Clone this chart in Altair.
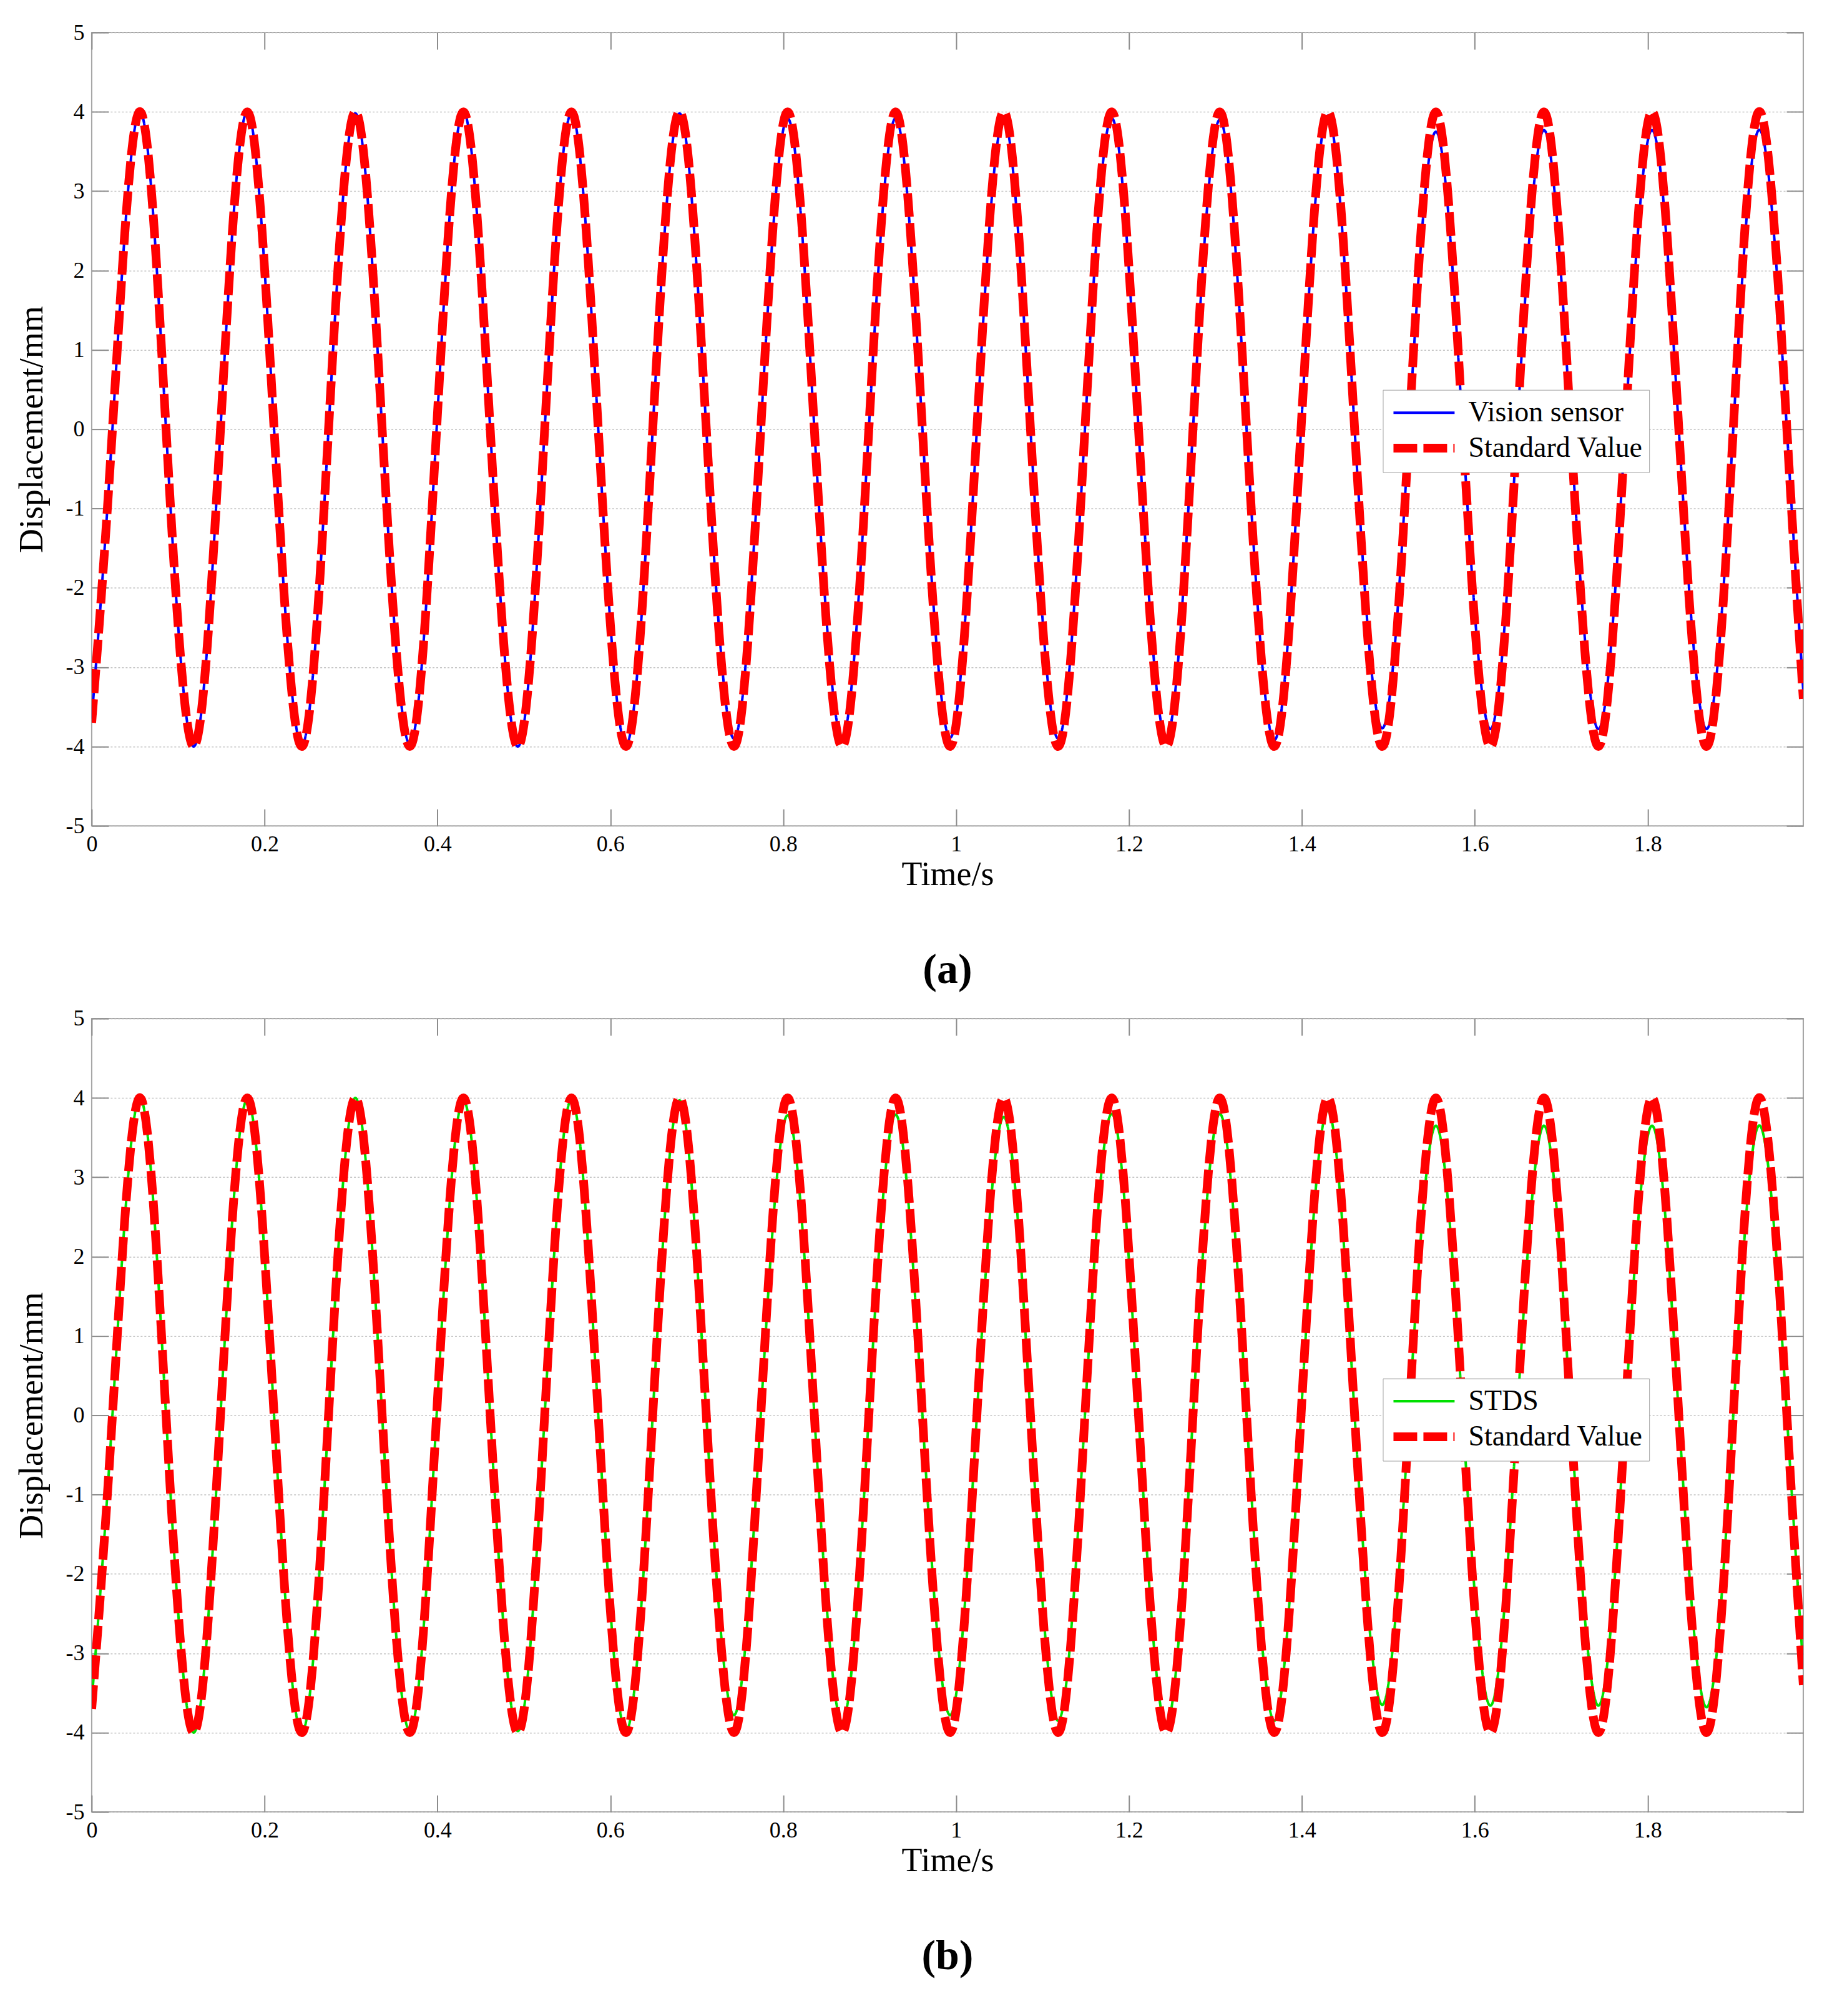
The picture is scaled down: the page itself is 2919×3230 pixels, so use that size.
import altair as alt
import pandas as pd

SERIF = "Liberation Serif"

# sample times (s): start, then quarter-period points (peak, zero, trough, zero) per cycle, then end
time_s = [
    0.000, 0.024,
    0.055, 0.086, 0.118, 0.149,
    0.180, 0.211, 0.243, 0.274,
    0.305, 0.336, 0.368, 0.399,
    0.430, 0.461, 0.493, 0.524,
    0.555, 0.586, 0.618, 0.649,
    0.680, 0.711, 0.743, 0.774,
    0.805, 0.836, 0.868, 0.899,
    0.930, 0.961, 0.993, 1.024,
    1.055, 1.086, 1.118, 1.149,
    1.180, 1.211, 1.243, 1.274,
    1.305, 1.336, 1.368, 1.399,
    1.430, 1.461, 1.493, 1.524,
    1.555, 1.586, 1.618, 1.649,
    1.680, 1.711, 1.743, 1.774,
    1.805, 1.836, 1.868, 1.899,
    1.930, 1.961, 1.980,
]

standard_value = [
    -3.70, 0.0,
    4.00, 0.0, -4.00, 0.0,
    4.00, 0.0, -4.00, 0.0,
    4.00, 0.0, -4.00, 0.0,
    4.00, 0.0, -4.00, 0.0,
    4.00, 0.0, -4.00, 0.0,
    4.00, 0.0, -4.00, 0.0,
    4.00, 0.0, -4.00, 0.0,
    4.00, 0.0, -4.00, 0.0,
    4.00, 0.0, -4.00, 0.0,
    4.00, 0.0, -4.00, 0.0,
    4.00, 0.0, -4.00, 0.0,
    4.00, 0.0, -4.00, 0.0,
    4.00, 0.0, -4.00, 0.0,
    4.00, 0.0, -4.00, 0.0,
    4.00, 0.0, -4.00, 0.0,
    4.00, 0.0, -3.40,
]

vision_sensor = [
    -3.65, 0.0,
    4.00, 0.0, -4.00, 0.0,
    4.00, 0.0, -3.98, 0.0,
    3.98, 0.0, -3.97, 0.0,
    4.00, 0.0, -4.00, 0.0,
    3.98, 0.0, -3.98, 0.0,
    3.98, 0.0, -3.90, 0.0,
    3.92, 0.0, -3.88, 0.0,
    3.92, 0.0, -3.89, 0.0,
    3.90, 0.0, -3.90, 0.0,
    3.92, 0.0, -3.89, 0.0,
    3.90, 0.0, -3.92, 0.0,
    3.95, 0.0, -3.77, 0.0,
    3.75, 0.0, -3.78, 0.0,
    3.77, 0.0, -3.78, 0.0,
    3.77, 0.0, -3.78, 0.0,
    3.77, 0.0, -3.30,
]

stds = [
    -3.60, 0.0,
    4.00, 0.0, -4.00, 0.0,
    3.98, 0.0, -4.00, 0.0,
    4.00, 0.0, -3.98, 0.0,
    3.97, 0.0, -3.98, 0.0,
    3.98, 0.0, -3.98, 0.0,
    3.97, 0.0, -3.78, 0.0,
    3.78, 0.0, -3.86, 0.0,
    3.79, 0.0, -3.78, 0.0,
    3.76, 0.0, -3.85, 0.0,
    3.80, 0.0, -3.90, 0.0,
    3.80, 0.0, -3.85, 0.0,
    3.84, 0.0, -3.65, 0.0,
    3.65, 0.0, -3.66, 0.0,
    3.65, 0.0, -3.66, 0.0,
    3.65, 0.0, -3.68, 0.0,
    3.65, 0.0, -3.20,
]

x_ticks = [0, 0.2, 0.4, 0.6, 0.8, 1, 1.2, 1.4, 1.6, 1.8]
y_ticks = [-5, -4, -3, -2, -1, 0, 1, 2, 3, 4, 5]

W, H = 2744, 1272
TICK = 27


def panel(meas_name, meas_vals, meas_color, caption, legend_y):
    df = pd.DataFrame({
        "t": time_s + time_s,
        "v": meas_vals + standard_value,
        "series": [meas_name] * len(time_s) + ["Standard Value"] * len(time_s),
    })
    dom = [meas_name, "Standard Value"]
    leg = alt.Legend(
        title=None, orient="none", legendX=2070, legendY=legend_y,
        fillColor="white", strokeColor="#a0a0a0", padding=10,
        symbolType="M-1,0H3", symbolSize=2400, labelFontSize=46,
        labelFont=SERIF, labelColor="black", rowPadding=2, labelOffset=64,
        labelLimit=800,
    )
    enc = dict(
        color=alt.Color("series:N", scale=alt.Scale(domain=dom, range=[meas_color, "#ff0000"]), legend=leg),
        strokeDash=alt.StrokeDash("series:N", scale=alt.Scale(domain=dom, range=[[1, 0], [38, 10]]), legend=leg),
        strokeWidth=alt.StrokeWidth("series:N", scale=alt.Scale(domain=dom, range=[4, 14]), legend=leg),
    )
    xs = alt.Scale(domain=[0, 1.98], nice=False, zero=False)
    ys = alt.Scale(domain=[-5, 5], nice=False, zero=False)

    x_bottom = alt.Axis(
        orient="bottom", values=x_ticks, format="~g", title="Time/s",
        offset=-TICK, tickSize=TICK, ticks=True, domain=False, grid=False,
        labelPadding=12, titlePadding=4, labelFlush=False,
    )
    y_left = alt.Axis(
        orient="left", values=y_ticks, title="Displacement/mm",
        offset=-TICK, tickSize=TICK, ticks=True, domain=False, grid=True,
        labelPadding=12, titlePadding=26,
        labelExpr="datum.value < 0 ? '-' + abs(datum.value) : '' + datum.value",
    )
    x_top = alt.Axis(orient="top", values=x_ticks, offset=-TICK, tickSize=TICK,
                     labels=False, domain=False, grid=False, title=None)
    y_right = alt.Axis(orient="right", values=y_ticks, offset=-TICK, tickSize=TICK,
                       labels=False, domain=False, grid=False, title=None)

    base = alt.Chart(df)
    meas = base.transform_filter(alt.datum.series == meas_name).mark_line(
        interpolate="natural", clip=True
    ).encode(
        x=alt.X("t:Q", scale=xs, axis=x_bottom),
        y=alt.Y("v:Q", scale=ys, axis=y_left),
        **enc,
    )
    std = base.transform_filter(alt.datum.series == "Standard Value").mark_line(
        interpolate="natural", clip=True
    ).encode(
        x=alt.X("t:Q", scale=xs, axis=x_top),
        y=alt.Y("v:Q", scale=ys, axis=y_right),
        **enc,
    )
    return alt.layer(meas, std).properties(
        width=W, height=H,
        title=alt.TitleParams(caption, orient="bottom", anchor="middle", fontSize=68,
                              font=SERIF, fontWeight="bold", offset=93, color="black"),
    )


pa = panel("Vision sensor", vision_sensor, "#0000ff", "(a)", 573)
pb = panel("STDS", stds, "#00e000", "(b)", 577)

chart = alt.vconcat(pa, pb, spacing=23).resolve_scale(
    color="independent", strokeDash="independent", strokeWidth="independent"
).resolve_legend(
    color="independent", strokeDash="independent", strokeWidth="independent"
).properties(
    padding={"left": 16, "top": 24, "right": 20, "bottom": 20},
    background="white",
).configure_view(
    stroke="#a6a6a6", strokeWidth=2
).configure_axis(
    labelFont=SERIF, titleFont=SERIF, labelFontSize=36, titleFontSize=54,
    titleFontWeight="normal", labelColor="black", titleColor="black",
    tickColor="#8c8c8c", tickWidth=2,
    gridColor="#c4c4c4", gridDash=[3, 3], gridWidth=1.5,
)

chart.save("out.html", embed_options={"renderer": "svg", "actions": False})
